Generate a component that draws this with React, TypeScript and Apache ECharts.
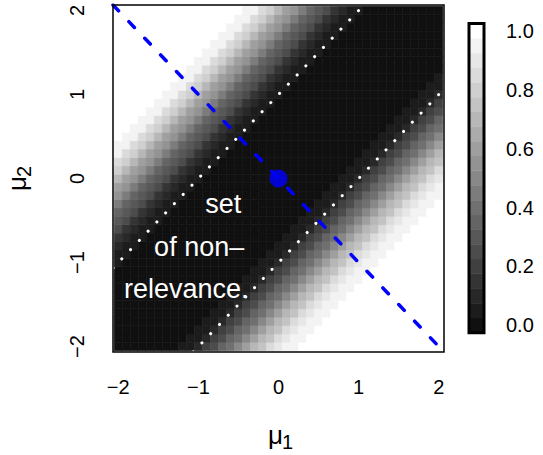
import React, { useEffect, useRef } from "react";
import * as echarts from "echarts";

// grid of mu values (cell centres) on both axes
const MU_GRID = [
  -2.0, -1.9, -1.8, -1.7, -1.6, -1.5, -1.4, -1.3, -1.2, -1.1, -1.0, -0.9, -0.8, -0.7,
  -0.6, -0.5, -0.4, -0.3, -0.2, -0.1, 0.0, 0.1, 0.2, 0.3, 0.4, 0.5, 0.6, 0.7, 0.8, 0.9,
  1.0, 1.1, 1.2, 1.3, 1.4, 1.5, 1.6, 1.7, 1.8, 1.9, 2.0,
];
const AXIS_TICKS = [-2, -1, 0, 1, 2];
const LEGEND_TICKS = [0, 0.2, 0.4, 0.6, 0.8, 1.0];
// colour levels of the grey scale
const LEVELS = [
  0, 0.05, 0.1, 0.15, 0.2, 0.25, 0.3, 0.35, 0.4, 0.45, 0.5, 0.55, 0.6, 0.65, 0.7, 0.75,
  0.8, 0.85, 0.9, 0.95, 1.0,
];
// value, by steps of 0.1 in (mu2 - mu1) above the diagonal
const UPPER_PROFILE = [
  0, 0, 0, 0, 0, 0, 0, 0, 0, 0, 0.03, 0.07, 0.12, 0.17, 0.23, 0.3, 0.37, 0.45, 0.53, 0.62,
  0.72, 0.8, 0.87, 0.93, 0.97, 1,
];
// same, below the diagonal (mu1 - mu2)
const LOWER_PROFILE = [
  0, 0, 0, 0, 0, 0, 0, 0, 0.03, 0.07, 0.12, 0.18, 0.25, 0.33, 0.42, 0.5, 0.6, 0.68, 0.76,
  0.83, 0.9, 0.94, 0.97, 1,
];
const BOUNDARY_OFFSETS = [1, -1]; // dotted lines mu2 = mu1 +/- 1
const DIAG_SLOPE = -1; // dashed blue line mu2 = -mu1
const CENTER_POINT = [0, 0];
const LABEL_LINES = ["set", "of non\u2013", "relevance."];
const LABEL_X = [-0.69, -0.99, -1.15];
const LABEL_Y = [-0.3, -0.82, -1.31];

const FONT = "'Liberation Sans', Arial, Helvetica, sans-serif";
const EXT = 2.065;
const HALF = EXT / MU_GRID.length;

function grayOf(level: number) {
  const idx = Math.max(0, Math.min(LEVELS.length - 1, Math.round(level * (LEVELS.length - 1))));
  const g = Math.round(16 + (239 * idx) / (LEVELS.length - 1));
  return `rgb(${g},${g},${g})`;
}

function fmt(v: number) {
  return v < 0 ? "\u2212" + Math.abs(v) : String(v);
}

export default function App() {
  const ref = useRef<HTMLDivElement>(null);
  useEffect(() => {
    if (!ref.current) return;
    const chart = echarts.init(ref.current, undefined, { renderer: "svg" });

    const cells: number[][] = [];
    MU_GRID.forEach((x, i) => {
      MU_GRID.forEach((y, j) => {
        const k = j - i;
        const v =
          k >= 0
            ? UPPER_PROFILE[Math.min(k, UPPER_PROFILE.length - 1)]
            : LOWER_PROFILE[Math.min(-k, LOWER_PROFILE.length - 1)];
        cells.push([x, y, v]);
      });
    });

    const legendCells = LEVELS.map((l) => [0.5, l, l]);
    const legendHalf = (LEVELS[1] - LEVELS[0]) / 2;

    const boundarySeries = BOUNDARY_OFFSETS.map((c) => {
      const x0 = Math.max(-EXT, -EXT - c);
      const x1 = Math.min(EXT, EXT - c);
      return {
        type: "line",
        xAxisIndex: 0,
        yAxisIndex: 0,
        data: [
          [x0, x0 + c],
          [x1, x1 + c],
        ],
        symbol: "none",
        silent: true,
        clip: true,
        z: 3,
        lineStyle: { color: "#ffffff", width: 3, type: [0.1, 12.6], cap: "round" },
      };
    });

    const option: any = {
      animation: false,
      textStyle: { fontFamily: FONT },
      grid: [
        {
          left: 113,
          top: 5,
          width: 331,
          height: 347,
          show: true,
          z: 10,
          borderColor: "#000",
          borderWidth: 1.5,
          backgroundColor: "transparent",
        },
        {
          left: 469,
          top: 23.6,
          width: 15,
          height: 309.1,
          show: true,
          z: 10,
          borderColor: "#000",
          borderWidth: 3,
          backgroundColor: "transparent",
        },
      ],
      xAxis: [
        {
          type: "value",
          gridIndex: 0,
          min: -EXT,
          max: EXT,
          splitLine: { show: false },
          axisLine: { show: false },
          axisTick: {
            show: true,
            customValues: AXIS_TICKS,
            length: 12,
            lineStyle: { color: "#333", width: 1 },
          },
          axisLabel: {
            customValues: AXIS_TICKS,
            formatter: fmt,
            fontSize: 20,
            color: "#000",
            fontFamily: FONT,
            margin: 25,
          },
        },
        { type: "value", gridIndex: 1, min: 0, max: 1, show: false },
      ],
      yAxis: [
        {
          type: "value",
          gridIndex: 0,
          min: -EXT,
          max: EXT,
          splitLine: { show: false },
          axisLine: { show: false },
          axisTick: {
            show: true,
            customValues: AXIS_TICKS,
            length: 12,
            lineStyle: { color: "#333", width: 1 },
          },
          axisLabel: {
            customValues: AXIS_TICKS,
            formatter: fmt,
            rotate: 90,
            fontSize: 20,
            color: "#000",
            fontFamily: FONT,
            margin: 26,
          },
        },
        {
          type: "value",
          gridIndex: 1,
          position: "right",
          min: LEVELS[0] - legendHalf,
          max: LEVELS[LEVELS.length - 1] + legendHalf,
          splitLine: { show: false },
          axisLine: { show: false },
          axisTick: {
            show: true,
            customValues: LEGEND_TICKS,
            length: 13.5,
            lineStyle: { color: "#444", width: 1 },
          },
          axisLabel: {
            customValues: LEGEND_TICKS,
            formatter: (v: number) => v.toFixed(1),
            fontSize: 20,
            color: "#000",
            fontFamily: FONT,
            margin: 22,
          },
        },
      ],
      series: [
        {
          type: "custom",
          coordinateSystem: "cartesian2d",
          xAxisIndex: 0,
          yAxisIndex: 0,
          data: cells,
          encode: { x: 0, y: 1 },
          clip: true,
          silent: true,
          z: 2,
          renderItem: (params: any, api: any) => {
            const x = api.value(0);
            const y = api.value(1);
            const c = grayOf(api.value(2));
            const p0 = api.coord([x - HALF, y + HALF]);
            const p1 = api.coord([x + HALF, y - HALF]);
            return {
              type: "rect",
              shape: { x: p0[0], y: p0[1], width: p1[0] - p0[0], height: p1[1] - p0[1] },
              style: { fill: c, stroke: c, lineWidth: 0.6 },
            };
          },
        },
        ...boundarySeries,
        {
          type: "line",
          xAxisIndex: 0,
          yAxisIndex: 0,
          data: [
            [-EXT, DIAG_SLOPE * -EXT],
            [EXT, DIAG_SLOPE * EXT],
          ],
          symbol: "none",
          silent: true,
          clip: true,
          z: 4,
          lineStyle: { color: "#0000ff", width: 3.5, type: [8, 15], cap: "round" },
        },
        {
          type: "scatter",
          xAxisIndex: 0,
          yAxisIndex: 0,
          data: [CENTER_POINT],
          symbol: "circle",
          symbolSize: 18,
          silent: true,
          z: 5,
          itemStyle: { color: "#0000ff" },
        },
        {
          type: "custom",
          coordinateSystem: "cartesian2d",
          xAxisIndex: 0,
          yAxisIndex: 0,
          data: LABEL_LINES.map((t, i) => [LABEL_X[i], LABEL_Y[i], i]),
          encode: { x: 0, y: 1 },
          silent: true,
          z: 6,
          renderItem: (params: any, api: any) => {
            const p = api.coord([api.value(0), api.value(1)]);
            return {
              type: "text",
              x: p[0],
              y: p[1],
              style: {
                text: LABEL_LINES[api.value(2)],
                fill: "#ffffff",
                fontSize: 27,
                fontFamily: FONT,
                align: "center",
                verticalAlign: "middle",
              },
            };
          },
        },
        {
          type: "custom",
          coordinateSystem: "cartesian2d",
          xAxisIndex: 1,
          yAxisIndex: 1,
          data: legendCells,
          encode: { x: 0, y: 1 },
          clip: true,
          silent: true,
          z: 2,
          renderItem: (params: any, api: any) => {
            const y = api.value(1);
            const c = grayOf(api.value(2));
            const p0 = api.coord([0, y + legendHalf]);
            const p1 = api.coord([1, y - legendHalf]);
            return {
              type: "rect",
              shape: { x: p0[0], y: p0[1], width: p1[0] - p0[0], height: p1[1] - p0[1] },
              style: { fill: c, stroke: c, lineWidth: 0.6 },
            };
          },
        },
      ],
      graphic: [
        {
          type: "text",
          x: 283,
          y: 435,
          style: {
            text: "\u03bc",
            fontSize: 26,
            fontFamily: FONT,
            fill: "#000",
            align: "right",
            verticalAlign: "middle",
            textAlign: "right",
            textVerticalAlign: "middle",
          },
        },
        {
          type: "text",
          x: 282,
          y: 442,
          style: {
            text: "1",
            fontSize: 20,
            fontFamily: FONT,
            fill: "#000",
            align: "left",
            verticalAlign: "middle",
            textAlign: "left",
            textVerticalAlign: "middle",
          },
        },
        {
          type: "group",
          x: 17,
          y: 178,
          rotation: Math.PI / 2,
          children: [
            {
              type: "text",
              x: 2,
              y: 0,
              style: {
                text: "\u03bc",
                fontSize: 26,
                fontFamily: FONT,
                fill: "#000",
                align: "right",
                verticalAlign: "middle",
                textAlign: "right",
                textVerticalAlign: "middle",
              },
            },
            {
              type: "text",
              x: 1,
              y: 7,
              style: {
                text: "2",
                fontSize: 20,
                fontFamily: FONT,
                fill: "#000",
                align: "left",
                verticalAlign: "middle",
                textAlign: "left",
                textVerticalAlign: "middle",
              },
            },
          ],
        },
      ],
    };

    chart.setOption(option);
    return () => chart.dispose();
  }, []);

  return (
    <div
      ref={ref}
      style={{ position: "fixed", left: 0, top: 0, width: 543, height: 455, background: "#fff" }}
    />
  );
}
